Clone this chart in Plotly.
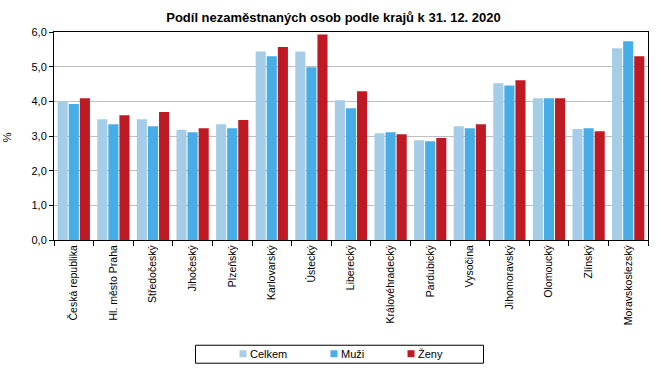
import plotly.graph_objects as go

categories = ["Česká republika", "Hl. město Praha", "Středočeský", "Jihočeský", "Plzeňský",
              "Karlovarský", "Ústecký", "Liberecký", "Královéhradecký", "Pardubický",
              "Vysočina", "Jihomoravský", "Olomoucký", "Zlínský", "Moravskoslezský"]
celkem = [4.00, 3.48, 3.48, 3.18, 3.34, 5.44, 5.44, 4.03, 3.08, 2.88, 3.28, 4.52, 4.09, 3.20, 5.53]
muzi = [3.92, 3.34, 3.28, 3.11, 3.22, 5.30, 4.98, 3.80, 3.11, 2.85, 3.22, 4.46, 4.09, 3.22, 5.73]
zeny = [4.09, 3.60, 3.69, 3.22, 3.46, 5.57, 5.93, 4.29, 3.05, 2.94, 3.34, 4.61, 4.09, 3.14, 5.30]
series_names = ["Celkem", "Muži", "Ženy"]
colors = ["#a6cde8", "#47ade6", "#be1a23"]
yticks = [0, 1, 2, 3, 4, 5, 6]

W, H = 661, 371
L, R, T, B = 54, 648, 31.5, 240
font = "Liberation Sans, Arial, sans-serif"


def px_x(x):
    return (x - L) / (R - L)


def px_y(y):
    return (B - y) / (B - T)


fig = go.Figure()
for name, vals, col in zip(series_names, [celkem, muzi, zeny], colors):
    fig.add_trace(go.Bar(x=categories, y=vals, name=name, showlegend=False,
                         marker=dict(color=col, line=dict(width=0))))

shapes = [dict(type="rect", xref="paper", yref="paper",
               x0=px_x(195.5), x1=px_x(483.5), y0=px_y(363.5), y1=px_y(345.5),
               line=dict(color="black", width=1), fillcolor="white", layer="above")]
annotations = [
    dict(text="%", xref="paper", yref="paper", x=px_x(7), y=px_y(137), textangle=-90,
         showarrow=False, xanchor="center", yanchor="middle", font=dict(family=font, size=11)),
]
legend_x = [243, 334, 411]
for name, col, mx in zip(series_names, colors, legend_x):
    shapes.append(dict(type="rect", xref="paper", yref="paper",
                       x0=px_x(mx - 3.5), x1=px_x(mx + 3.5), y0=px_y(357.5), y1=px_y(350.5),
                       line=dict(width=0), fillcolor=col, layer="above"))
    annotations.append(dict(text=name, xref="paper", yref="paper", x=px_x(mx + 5), y=px_y(354.5),
                            showarrow=False, xanchor="left", yanchor="middle",
                            font=dict(family=font, size=11, color="black")))

fig.update_layout(
    width=W, height=H,
    margin=dict(l=L, r=W - R, t=T, b=H - B, autoexpand=False),
    paper_bgcolor="white", plot_bgcolor="white",
    separators=", ",
    font=dict(family=font, size=11, color="black"),
    barmode="group", bargap=0.16, bargroupgap=0.09,
    title=dict(text="<b>Podíl nezaměstnaných osob podle krajů k 31. 12. 2020</b>",
               x=333.5 / W, xanchor="center", xref="container",
               y=1 - 17.5 / H, yanchor="middle", yref="container",
               font=dict(family=font, size=13, color="black")),
    showlegend=False,
    shapes=shapes,
    annotations=annotations,
)
fig.update_xaxes(type="category", tickangle=-90, showline=True, linecolor="black", linewidth=1,
                 mirror=True, ticks="outside", tickson="boundaries", ticklen=5, tickcolor="black",
                 showgrid=False, automargin=False, tickfont=dict(family=font, size=10.5))
fig.update_yaxes(range=[0, 6], tickvals=yticks, tickformat=".1f", showline=True, linecolor="black",
                 linewidth=1, mirror=True, ticks="outside", ticklen=4, tickcolor="black",
                 showgrid=True, gridcolor="#bfbfbf", gridwidth=1, zeroline=False,
                 automargin=False, tickfont=dict(family=font, size=11))
fig.write_html("out.html", config={"displayModeBar": False},
               post_script="document.body.style.margin='0';")
